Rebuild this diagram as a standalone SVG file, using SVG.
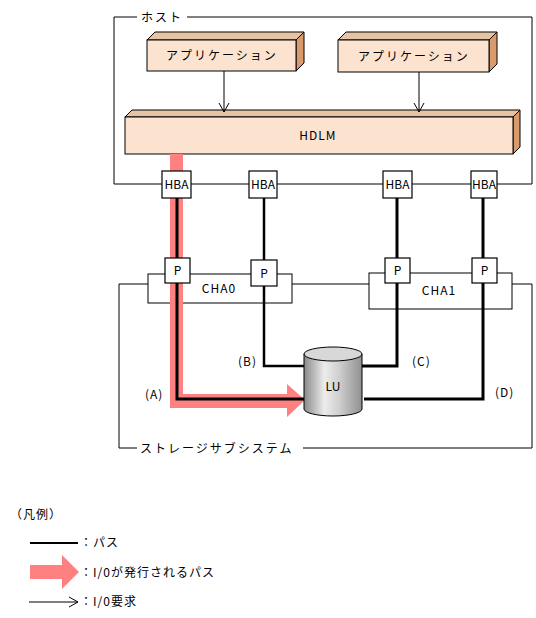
<svg xmlns="http://www.w3.org/2000/svg" width="536" height="618" viewBox="0 0 536 618">
<defs>
<style>
.t{font-family:"Noto Sans CJK JP","Liberation Sans",sans-serif;font-size:12px;fill:#000}
.c{text-anchor:middle}
.w{letter-spacing:2px}
.w1{letter-spacing:1px}
.thin{fill:none;stroke:#000;stroke-width:1}
.box{fill:#fff;stroke:#000;stroke-width:1.2}
.front{fill:#FCE3CF;stroke:#000;stroke-width:1}
.top{fill:#E6C3A3;stroke:#000;stroke-width:1}
.side{fill:#D99B6C;stroke:#000;stroke-width:1}
.path{fill:none;stroke:#000;stroke-width:3}
.red{fill:#FF8080}
</style>
<marker id="v" markerWidth="10" markerHeight="12" refX="9" refY="6" orient="auto" markerUnits="userSpaceOnUse">
<path d="M0,1 L9,6 L0,11" fill="none" stroke="#000" stroke-width="1"/>
</marker>
<linearGradient id="cyl" x1="0" x2="1" y1="0" y2="0">
<stop offset="0" stop-color="#8a8a8a"/>
<stop offset="0.35" stop-color="#ececec"/>
<stop offset="0.6" stop-color="#d0d0d0"/>
<stop offset="1" stop-color="#909090"/>
</linearGradient>
</defs>

<g id="host">
<path class="thin" d="M137,17 H114 V184 H162 M191,184 H249 M277,184 H383 M412,184 H471 M497,184 H532 V17 H187"/>
<text class="t w" x="141" y="22">ホスト</text>
</g>

<g id="storage">
<path class="thin" d="M137,448 H119 V284 H148 M292,284 H369 M512,284 H532 V448 H303"/>
<text class="t w" x="140" y="453">ストレージサブシステム</text>
</g>

<g id="app1">
<polygon class="top" points="147,40 155,32 304,32 296,40"/>
<polygon class="side" points="296,40 304,32 304,63 296,71"/>
<rect class="front" x="147" y="40" width="149" height="31"/>
<text class="t c w" x="222" y="60">アプリケーション</text>
</g>
<g id="app2">
<polygon class="top" points="338,40 346,32 497,32 489,40"/>
<polygon class="side" points="489,40 497,32 497,64 489,72"/>
<rect class="front" x="338" y="40" width="151" height="32"/>
<text class="t c w" x="414" y="61">アプリケーション</text>
</g>
<g id="hdlm">
<polygon class="top" points="125,117 132,110 520,110 513,117"/>
<polygon class="side" points="513,117 520,110 520,147 513,154"/>
<rect class="front" x="125" y="117" width="388" height="37"/>
<text class="t c w1" x="318" y="140">HDLM</text>
</g>

<g id="cha0"><rect class="box" x="148" y="274" width="144" height="29" style="stroke-width:1"/><text class="t c w1" x="219" y="293">CHA0</text></g>
<g id="cha1"><rect class="box" x="369" y="273" width="143" height="36" style="stroke-width:1"/><text class="t c w1" x="439" y="295">CHA1</text></g>

<g id="connectors">
<polygon class="red" points="170,154 183,154 183,394 287,394 287,384 305,400 287,417 287,408 170,408"/>
<line class="thin" x1="224" y1="71" x2="224" y2="112" marker-end="url(#v)"/>
<line class="thin" x1="419" y1="72" x2="419" y2="112" marker-end="url(#v)"/>
<path class="path" d="M177,198 V399 H304"/>
<path class="path" style="stroke-width:2.5" d="M264,198 V366 H305"/>
<path class="path" d="M397,198 V366 H361"/>
<path class="path" d="M483,198 V399 H364"/>
</g>

<g id="hba1"><rect class="box" x="162" y="171" width="29" height="27"/><text class="t c" x="176.5" y="189">HBA</text></g>
<g id="hba2"><rect class="box" x="249" y="171" width="28" height="27"/><text class="t c" x="263" y="189">HBA</text></g>
<g id="hba3"><rect class="box" x="383" y="171" width="29" height="27"/><text class="t c" x="397.5" y="189">HBA</text></g>
<g id="hba4"><rect class="box" x="471" y="171" width="26" height="27"/><text class="t c" x="484" y="189">HBA</text></g>

<g id="p1"><rect class="box" x="165" y="258" width="25" height="25"/><text class="t c" x="177.5" y="275">P</text></g>
<g id="p2"><rect class="box" x="251" y="260" width="26" height="26"/><text class="t c" x="264" y="278">P</text></g>
<g id="p3"><rect class="box" x="385" y="258" width="25" height="25"/><text class="t c" x="397.5" y="275">P</text></g>
<g id="p4"><rect class="box" x="472" y="258" width="25" height="25"/><text class="t c" x="484.5" y="275">P</text></g>

<g id="lu">
<path d="M304,354 V409 A29,7 0 0 0 362,409 V354 Z" fill="url(#cyl)" stroke="#000" stroke-width="1"/>
<ellipse cx="333" cy="354" rx="29" ry="7" fill="#d8d8d8" stroke="#000" stroke-width="1"/>
<text class="t c" x="333" y="391">LU</text>
</g>

<g id="labels">
<text class="t w1" x="145" y="399">(A)</text>
<text class="t w1" x="238" y="366">(B)</text>
<text class="t w1" x="412" y="366">(C)</text>
<text class="t w1" x="495" y="397">(D)</text>
</g>

<g id="legend">
<text class="t w1" x="10" y="519">（凡例）</text>
<line x1="30" y1="543" x2="78" y2="543" stroke="#000" stroke-width="2"/>
<text class="t w1" x="80" y="547">：パス</text>
<polygon class="red" points="30,565 62,565 62,555 79,572 62,589 62,579 30,579"/>
<text class="t w1" x="80" y="577">：I/0が発行されるパス</text>
<line class="thin" x1="29" y1="602" x2="78" y2="602" marker-end="url(#v)"/>
<text class="t w1" x="80" y="606">：I/0要求</text>
</g>
</svg>
